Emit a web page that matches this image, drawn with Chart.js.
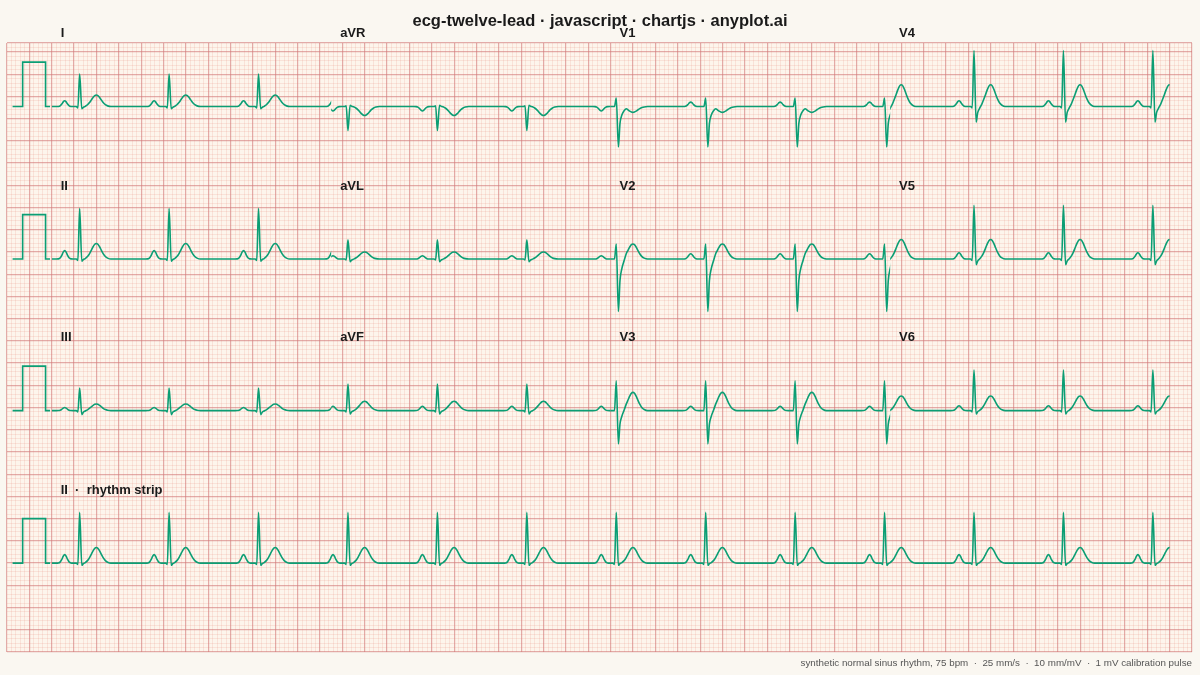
<!DOCTYPE html>
<html>
<head>
<meta charset="utf-8">
<title>ecg-twelve-lead</title>
<script src="https://cdn.jsdelivr.net/npm/chart.js@4.4.1/dist/chart.umd.min.js"></script>
<style>
  html, body { margin: 0; padding: 0; background: #faf7f1; }
  canvas { display: block; }
</style>
</head>
<body>
<canvas id="ecg" width="1200" height="675"></canvas>
<script>
// R-peak times of the synthetic sinus rhythm (s), 75 bpm
const beatTimes = [0.25, 1.05, 1.85, 2.65, 3.45, 4.25, 5.05, 5.85, 6.65, 7.45, 8.25, 9.05, 9.85];

// sheet layout: 3 rows x 4 columns, then the rhythm strip
const leadNames = ['I', 'aVR', 'V1', 'V4', 'II', 'aVL', 'V2', 'V5', 'III', 'aVF', 'V3', 'V6'];
const columnStarts = [0, 2.5, 5, 7.5];
const columnLength = 2.5;
const rowBaselines = [10.27, 6.84, 3.43, 0]; // mV, last = rhythm strip
const rhythmLabel = 'II  ·  rhythm strip';

// wave amplitudes per lead (mV), same order as leadNames
const pAmp = [0.13, -0.10, 0.10, 0.13, 0.19, 0.075, 0.12, 0.14, 0.07, 0.10, 0.10, 0.11];
const qAmp = [-0.03, 0.02, 0, -0.03, -0.03, -0.02, 0, -0.03, -0.03, -0.03, 0, -0.03];
const rAmp = [0.73, -0.54, 0.19, 1.26, 1.14, 0.43, 0.34, 1.21, 0.51, 0.60, 0.67, 0.91];
const sAmp = [-0.05, 0.03, -0.91, -0.35, -0.05, -0.06, -1.18, -0.13, -0.09, -0.075, -0.75, -0.075];
const tAmp = [0.26, -0.20, -0.13, 0.49, 0.35, 0.16, 0.34, 0.44, 0.15, 0.21, 0.41, 0.33];

// one beat: knot offsets from the R peak (s) and the share of each wave at that knot
const tmplOffset = [-0.21, -0.19, -0.175, -0.16, -0.147, -0.134, -0.121, -0.108, -0.093, -0.078, -0.06,
                    -0.03, -0.016, 0, 0.019, 0.033,
                    0.05, 0.07, 0.09, 0.105, 0.12, 0.135, 0.149, 0.163, 0.178, 0.193, 0.21, 0.23, 0.25, 0.28];
const tmplP = [0, .02, .12, .43, .81, 1, .81, .43, .12, .02, 0,
               0, 0, 0, 0, 0,
               0, 0, 0, 0, 0, 0, 0, 0, 0, 0, 0, 0, 0, 0];
const tmplQ = [0, 0, 0, 0, 0, 0, 0, 0, 0, 0, 0,
               0, 1, 0, 0, 0,
               0, 0, 0, 0, 0, 0, 0, 0, 0, 0, 0, 0, 0, 0];
const tmplR = [0, 0, 0, 0, 0, 0, 0, 0, 0, 0, 0,
               0, 0, 1, 0, 0,
               0, 0, 0, 0, 0, 0, 0, 0, 0, 0, 0, 0, 0, 0];
const tmplS = [0, 0, 0, 0, 0, 0, 0, 0, 0, 0, 0,
               0, 0, 0, 1, .42,
               .2, .08, 0, 0, 0, 0, 0, 0, 0, 0, 0, 0, 0, 0];
const tmplT = [0, 0, 0, 0, 0, 0, 0, 0, 0, 0, 0,
               0, 0, 0, 0, .02,
               .06, .17, .37, .58, .79, .95, 1, .95, .79, .58, .35, .16, .06, 0];

// 1 mV calibration pulse at the left of each row
const calTime = [-0.35, -0.26, -0.26, -0.055, -0.055, -0.015];
const calLevel = [0, 0, 1, 1, 0, 0];

const TRACE = '#0b9e74';
const PAPER = '#fdf5ec';
const FONT = "'Liberation Sans', Arial, sans-serif";

function leadTrace(li, base, from, to) {
  const pts = [];
  if (from - 0.3 <= 0) pts.push({ x: 0, y: base });
  beatTimes.forEach(bt => {
    tmplOffset.forEach((off, k) => {
      const x = bt + off;
      if (x < from - 0.3 || x > to + 0.3) return;
      const y = base + pAmp[li] * tmplP[k] + qAmp[li] * tmplQ[k] + rAmp[li] * tmplR[k]
              + sAmp[li] * tmplS[k] + tAmp[li] * tmplT[k];
      pts.push({ x: x, y: y });
    });
  });
  return pts;
}

const traceStyle = {
  borderColor: TRACE,
  borderWidth: 1.6,
  pointRadius: 0,
  fill: false,
  cubicInterpolationMode: 'monotone',
  borderJoinStyle: 'round'
};

const datasets = [];
leadNames.forEach((name, li) => {
  const row = Math.floor(li / 4);
  const from = columnStarts[li % 4];
  const to = from + columnLength;
  datasets.push(Object.assign({ label: name, data: leadTrace(li, rowBaselines[row], from, to), win: [from, to] }, traceStyle));
});
const iiIndex = leadNames.indexOf('II');
datasets.push(Object.assign({ label: 'rhythm', data: leadTrace(iiIndex, rowBaselines[3], 0, 10), win: [0, 10] }, traceStyle));
rowBaselines.forEach((base, r) => {
  datasets.push({
    label: 'cal' + r,
    data: calTime.map((t, i) => ({ x: t, y: base + calLevel[i] })),
    borderColor: TRACE,
    borderWidth: 1.6,
    pointRadius: 0,
    tension: 0,
    fill: false
  });
});

const MAJOR = 'rgba(210,120,120,0.6)';
const MINOR = 'rgba(225,120,110,0.15)';

const ecgPaper = {
  id: 'ecgPaper',
  beforeDraw(chart) {
    const { ctx, chartArea: a } = chart;
    ctx.save();
    ctx.fillStyle = PAPER;
    ctx.fillRect(a.left, a.top, a.right - a.left, a.bottom - a.top);
    ctx.restore();
  },
  beforeDatasetDraw(chart, args) {
    const ds = chart.data.datasets[args.index];
    if (!ds.win) return;
    const xs = chart.scales.x;
    const a = chart.chartArea;
    const x0 = xs.getPixelForValue(ds.win[0]);
    const x1 = xs.getPixelForValue(ds.win[1]);
    chart.ctx.save();
    chart.ctx.beginPath();
    chart.ctx.rect(x0, a.top, x1 - x0, a.bottom - a.top);
    chart.ctx.clip();
  },
  afterDatasetDraw(chart, args) {
    if (chart.data.datasets[args.index].win) chart.ctx.restore();
  },
  afterDraw(chart) {
    const { ctx, chartArea: a } = chart;
    const xs = chart.scales.x, ys = chart.scales.y;
    ctx.save();
    // title
    ctx.fillStyle = '#1a1a1a';
    ctx.font = 'bold 16.5px ' + FONT;
    ctx.textAlign = 'center';
    ctx.textBaseline = 'alphabetic';
    ctx.fillText('ecg-twelve-lead · javascript · chartjs · anyplot.ai', 600, 26);
    // lead labels
    ctx.font = 'bold 13px ' + FONT;
    ctx.textAlign = 'left';
    leadNames.forEach((name, li) => {
      const row = Math.floor(li / 4);
      ctx.fillText(name, xs.getPixelForValue(columnStarts[li % 4] + 0.08), ys.getPixelForValue(rowBaselines[row] + 1.56));
    });
    ctx.fillText(rhythmLabel, xs.getPixelForValue(0.08), ys.getPixelForValue(rowBaselines[3] + 1.56));
    // footer
    ctx.fillStyle = '#555';
    ctx.font = '9.8px ' + FONT;
    ctx.textAlign = 'right';
    ctx.fillText('synthetic normal sinus rhythm, 75 bpm  ·  25 mm/s  ·  10 mm/mV  ·  1 mV calibration pulse', a.right, 666);
    ctx.restore();
  }
};

function isMajor(ctx, step) {
  const v = ctx.tick ? ctx.tick.value : 0;
  return Math.abs(v - ctx.scale.max) < 1e-6 || Math.round(v / step) % 5 === 0;
}
function gridColor(step) {
  return ctx => (isMajor(ctx, step) ? MAJOR : MINOR);
}
function gridWidth(step) {
  return ctx => (isMajor(ctx, step) ? 1.2 : 1);
}

new Chart(document.getElementById('ecg'), {
  type: 'line',
  data: { datasets: datasets },
  plugins: [ecgPaper],
  options: {
    responsive: false,
    animation: false,
    layout: { padding: { left: 7, right: 8, top: 43, bottom: 23 } },
    plugins: {
      legend: { display: false },
      title: { display: false },
      tooltip: { enabled: false }
    },
    scales: {
      x: {
        type: 'linear',
        min: -0.4,
        max: 10.2,
        ticks: { display: false, stepSize: 0.04 },
        border: { display: false },
        grid: { drawTicks: false, color: gridColor(0.04), lineWidth: gridWidth(0.04) }
      },
      y: {
        type: 'linear',
        min: -2,
        max: 11.7,
        ticks: { display: false, stepSize: 0.1 },
        border: { display: false },
        grid: { drawTicks: false, color: gridColor(0.1), lineWidth: gridWidth(0.1) }
      }
    }
  }
});
</script>
</body>
</html>
